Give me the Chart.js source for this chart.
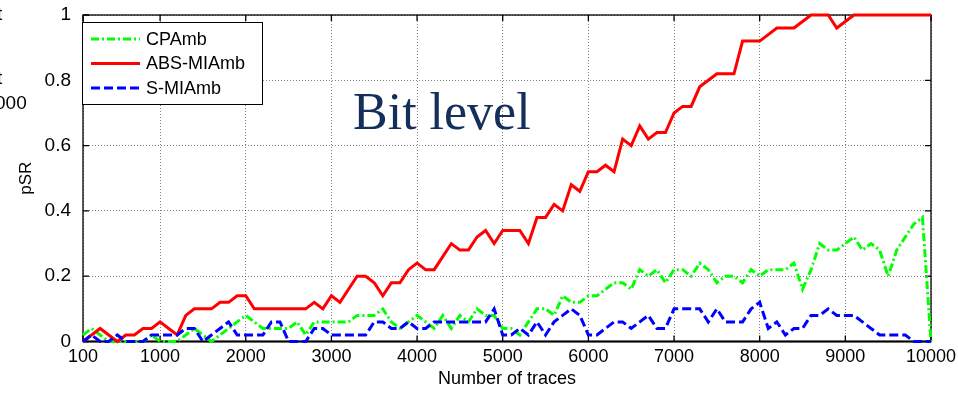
<!DOCTYPE html>
<html>
<head>
<meta charset="utf-8">
<script src="https://cdn.jsdelivr.net/npm/chart.js@4.4.0/dist/chart.umd.min.js"></script>
<style>
html,body{margin:0;padding:0;background:#fff;overflow:hidden}
canvas{display:block}
</style>
</head>
<body>
<canvas id="c" width="958" height="393"></canvas>
<script>
// ─── Data ───
const traces = [
  100,200,300,400,500,600,700,800,900,1000,
  1100,1200,1300,1400,1500,1600,1700,1800,1900,2000,
  2100,2200,2300,2400,2500,2600,2700,2800,2900,3000,
  3100,3200,3300,3400,3500,3600,3700,3800,3900,4000,
  4100,4200,4300,4400,4500,4600,4700,4800,4900,5000,
  5100,5200,5300,5400,5500,5600,5700,5800,5900,6000,
  6100,6200,6300,6400,6500,6600,6700,6800,6900,7000,
  7100,7200,7300,7400,7500,7600,7700,7800,7900,8000,
  8100,8200,8300,8400,8500,8600,8700,8800,8900,9000,
  9100,9200,9300,9400,9500,9600,9700,9800,9900,10000
];
const cpa = [
  0.02,0.04,0.02,0,0,0,0,0,0.02,0,
  0,0,0.02,0.04,0.02,0,0.02,0.04,0.06,0.08,
  0.06,0.04,0.04,0.04,0.04,0.06,0.02,0.06,0.06,0.06,
  0.06,0.06,0.08,0.08,0.08,0.1,0.06,0.04,0.06,0.08,
  0.06,0.04,0.08,0.04,0.08,0.06,0.1,0.08,0.08,0.04,
  0.04,0.02,0.06,0.1,0.1,0.08,0.14,0.12,0.12,0.14,
  0.14,0.16,0.18,0.18,0.16,0.22,0.2,0.22,0.18,0.22,
  0.22,0.2,0.24,0.22,0.18,0.2,0.2,0.18,0.22,0.2,
  0.22,0.22,0.22,0.24,0.16,0.22,0.3,0.28,0.28,0.3,
  0.32,0.28,0.3,0.28,0.2,0.28,0.32,0.36,0.38,0
];
const absMia = [
  0,0.02,0.04,0.02,0,0.02,0.02,0.04,0.04,0.06,
  0.04,0.02,0.08,0.1,0.1,0.1,0.12,0.12,0.14,0.14,
  0.1,0.1,0.1,0.1,0.1,0.1,0.1,0.12,0.1,0.14,
  0.12,0.16,0.2,0.2,0.18,0.14,0.18,0.18,0.22,0.24,
  0.22,0.22,0.26,0.3,0.28,0.28,0.32,0.34,0.3,0.34,
  0.34,0.34,0.3,0.38,0.38,0.42,0.4,0.48,0.46,0.52,
  0.52,0.54,0.52,0.62,0.6,0.66,0.62,0.64,0.64,0.7,
  0.72,0.72,0.78,0.8,0.82,0.82,0.82,0.92,0.92,0.92,
  0.94,0.96,0.96,0.96,0.98,1,1,1,0.96,0.98,
  1,1,1,1,1,1,1,1,1,1
];
const sMia = [
  0,0.02,0,0,0.02,0,0,0,0.02,0.02,
  0.02,0.02,0.04,0.04,0,0.02,0.04,0.06,0.02,0.02,
  0.02,0.02,0.06,0.06,0,0,0,0.04,0.04,0.02,
  0.02,0.02,0.02,0.02,0.06,0.06,0.04,0.04,0.06,0.04,
  0.04,0.06,0.06,0.06,0.06,0.06,0.06,0.06,0.1,0.02,
  0.02,0.04,0.02,0.06,0.02,0.06,0.08,0.1,0.08,0.02,
  0.02,0.04,0.06,0.06,0.04,0.06,0.08,0.04,0.04,0.1,
  0.1,0.1,0.1,0.06,0.1,0.06,0.06,0.06,0.1,0.12,
  0.04,0.06,0.02,0.04,0.04,0.08,0.08,0.1,0.08,0.08,
  0.08,0.06,0.04,0.02,0.02,0.02,0.02,0,0,0
];
const xTicks = [100,1000,2000,3000,4000,5000,6000,7000,8000,9000,10000];
const yTicks = [0,0.2,0.4,0.6,0.8,1];

// ─── Styles ───
const FONT = "'Liberation Sans', Arial, sans-serif";
const SERIES = [
  {label:'CPAmb',     data:cpa,    color:'#00ff00', dash:[8,3,2,3]},
  {label:'ABS-MIAmb', data:absMia, color:'#ff0000', dash:[]},
  {label:'S-MIAmb',   data:sMia,   color:'#0000ff', dash:[9,4]}
];

// MATLAB-like box with inward ticks, annotation and legend
const frame = {
  id:'frame',
  beforeDatasetsDraw(chart){
    const {ctx, chartArea:a, scales:{x,y}} = chart;
    ctx.save();
    ctx.strokeStyle='#000'; ctx.lineWidth=1.3;
    ctx.strokeRect(a.left, a.top, a.right-a.left, a.bottom-a.top);
    ctx.beginPath();
    xTicks.forEach(v=>{
      const px = x.getPixelForValue(v);
      ctx.moveTo(px, a.bottom); ctx.lineTo(px, a.bottom-6);
      ctx.moveTo(px, a.top);    ctx.lineTo(px, a.top+6);
    });
    yTicks.forEach(v=>{
      const py = y.getPixelForValue(v);
      ctx.moveTo(a.left, py);  ctx.lineTo(a.left+6, py);
      ctx.moveTo(a.right, py); ctx.lineTo(a.right-6, py);
    });
    ctx.stroke();
    ctx.lineWidth=2;
    ctx.beginPath(); ctx.moveTo(a.left, a.bottom); ctx.lineTo(a.right, a.bottom); ctx.stroke();
    ctx.restore();
  },
  afterDraw(chart){
    const ctx = chart.ctx;
    ctx.save();
    ctx.fillStyle='#14305a';
    ctx.font="52px 'Liberation Serif', 'DejaVu Serif', serif";
    ctx.textBaseline='alphabetic';
    ctx.fillText('Bit level', 353, 129);
    // clipped remnants at left edge
    ctx.fillStyle='#000';
    ctx.font="19px "+FONT;
    ctx.fillText('t', -3, 20);
    ctx.fillText('t', -3, 84);
    ctx.fillText('000', -5, 109);
    // legend
    const bx=82, by=22, bw=180, bh=82;
    ctx.fillStyle='#fff';
    ctx.fillRect(bx, by, bw, bh);
    ctx.strokeStyle='#000'; ctx.lineWidth=1;
    ctx.strokeRect(bx+0.5, by+0.5, bw, bh);
    ctx.font="18px "+FONT;
    ctx.textBaseline='middle';
    SERIES.forEach((s,i)=>{
      const ry = 39 + i*24.5;
      ctx.strokeStyle=s.color; ctx.lineWidth=2.8; ctx.setLineDash(s.dash);
      ctx.beginPath(); ctx.moveTo(91, ry); ctx.lineTo(140, ry); ctx.stroke();
      ctx.setLineDash([]);
      ctx.fillStyle='#000';
      ctx.fillText(s.label, 146, ry+1);
    });
    ctx.restore();
  }
};

new Chart(document.getElementById('c').getContext('2d'),{
  type:'line',
  data:{
    labels:traces,
    datasets:SERIES.map((s,i)=>({
      label:s.label,
      data:traces.map((t,k)=>({x:t, y:s.data[k]})),
      borderColor:s.color, borderWidth:3, borderDash:s.dash,
      pointRadius:0, tension:0, fill:false, clip:4,
      order:SERIES.length-i
    }))
  },
  options:{
    responsive:false, animation:false, events:[],
    layout:{padding:{top:15, right:27, left:0, bottom:0}},
    plugins:{legend:{display:false}, tooltip:{enabled:false}},
    scales:{
      x:{
        type:'linear', min:100, max:10000,
        afterBuildTicks:s=>{ s.ticks = xTicks.map(v=>({value:v})); },
        afterFit:s=>{ s.height = 51.5; s.paddingLeft = 0; s.paddingRight = 0; },
        ticks:{autoSkip:false, maxRotation:0, color:'#000', padding:5, font:{family:FONT, size:18},
               callback:v=>String(v)},
        grid:{color:'rgba(0,0,0,0.5)', lineWidth:1, drawTicks:false},
        border:{display:false, dash:[1,2]},
        title:{display:true, text:'Number of traces', color:'#000', font:{family:FONT, size:18}, padding:{top:0, bottom:3}}
      },
      y:{
        min:0, max:1,
        afterBuildTicks:s=>{ s.ticks = yTicks.map(v=>({value:v})); },
        afterFit:s=>{ s.width = 83; s.paddingTop = 0; s.paddingBottom = 0; },
        ticks:{color:'#000', padding:12, font:{family:FONT, size:19},
               callback:v=>String(+v.toFixed(1))},
        grid:{color:'rgba(0,0,0,0.5)', lineWidth:1, drawTicks:false},
        border:{display:false, dash:[1,2]},
        title:{display:true, text:'pSR', color:'#000', font:{family:FONT, size:17}, padding:{top:16, bottom:0}}
      }
    }
  },
  plugins:[frame]
});
</script>
</body>
</html>
